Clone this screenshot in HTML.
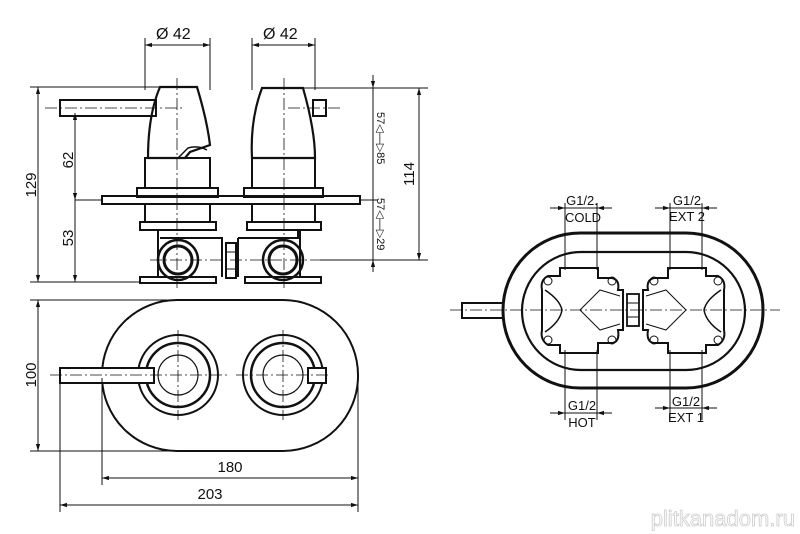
<!DOCTYPE html>
<html><head><style>
html,body{margin:0;padding:0;background:#fff;}
svg{display:block}
text{font-family:"Liberation Sans",sans-serif;fill:#111;}
</style></head><body>
<svg width="800" height="534" viewBox="0 0 800 534" xmlns="http://www.w3.org/2000/svg">
<defs>
<marker id="a" viewBox="0 0 10 10" refX="10" refY="5" markerWidth="7" markerHeight="7" orient="auto-start-reverse"><path d="M0,2 L10,5 L0,8 z" fill="#111"/></marker>
</defs>
<g fill="none" stroke="#111" stroke-width="1">
<line x1="145" y1="38" x2="145" y2="90"/><line x1="210" y1="38" x2="210" y2="90"/>
<line x1="252" y1="38" x2="252" y2="90"/><line x1="315" y1="38" x2="315" y2="90"/>
<line x1="145" y1="45" x2="210" y2="45" marker-start="url(#a)" marker-end="url(#a)"/>
<line x1="252" y1="45" x2="315" y2="45" marker-start="url(#a)" marker-end="url(#a)"/>
<rect x="60" y="100" width="96" height="16" stroke-width="2"/>
<path d="M160,87 L197,87 Q207,120 210,145 L190,152 L185,158 L148,158 Q148,115 160,87 z" stroke-width="2.2"/>
<path d="M178,158 L188,148 Q198,145 207,150" stroke-width="1.5"/>
<rect x="145" y="158" width="65" height="30" stroke-width="2"/>
<rect x="137" y="188" width="81" height="9" stroke-width="2"/>
<rect x="145" y="204" width="65" height="18" stroke-width="2"/>
<rect x="140" y="222" width="76" height="8" stroke-width="2"/>
<path d="M262,88 L303,88 Q315,130 315,158 L252,158 Q250,120 262,88 z" stroke-width="2.2"/>
<rect x="313" y="100" width="13" height="16" stroke-width="2"/>
<rect x="252" y="158" width="63" height="30" stroke-width="2"/>
<rect x="244" y="188" width="79" height="9" stroke-width="2"/>
<rect x="252" y="204" width="63" height="18" stroke-width="2"/>
<rect x="247" y="222" width="74" height="8" stroke-width="2"/>
<rect x="102" y="196" width="258" height="8" stroke-width="2"/>
<path d="M158,230 L158,277 M160,238 L222,238 L222,277" stroke-width="2"/>
<rect x="140" y="277" width="76" height="6" stroke-width="2"/>
<circle cx="178" cy="260" r="20" stroke-width="2.5"/><circle cx="178" cy="260" r="14" stroke-width="3"/>
<path d="M238,238 L298,238 L298,230 M238,238 L238,277 M300,230 L300,277" stroke-width="2"/>
<rect x="245" y="277" width="76" height="6" stroke-width="2"/>
<circle cx="283" cy="260" r="20" stroke-width="2.5"/><circle cx="283" cy="260" r="14" stroke-width="3"/>
<rect x="226" y="243" width="10" height="35" stroke-width="2"/>
<line x1="226" y1="252" x2="236" y2="252"/><line x1="226" y1="269" x2="236" y2="269"/>
<g stroke-dasharray="12,3,2,3" stroke-width="0.8">
<line x1="177" y1="78" x2="177" y2="288"/><line x1="284" y1="78" x2="284" y2="288"/>
<line x1="45" y1="108" x2="185" y2="108"/><line x1="288" y1="108" x2="340" y2="108"/>
<line x1="150" y1="260" x2="330" y2="260"/>
</g>
<line x1="30" y1="87" x2="160" y2="87"/><line x1="30" y1="282" x2="140" y2="282"/>
<line x1="38" y1="87" x2="38" y2="282" marker-start="url(#a)" marker-end="url(#a)"/>
<line x1="75" y1="200" x2="102" y2="200"/>
<line x1="75" y1="113" x2="75" y2="200" marker-start="url(#a)" marker-end="url(#a)"/>
<line x1="75" y1="200" x2="75" y2="282" marker-end="url(#a)"/>
<line x1="303" y1="88" x2="428" y2="88"/><line x1="320" y1="260" x2="428" y2="260"/>
<line x1="360" y1="200" x2="378" y2="200"/>
<line x1="419" y1="88" x2="419" y2="260" marker-start="url(#a)" marker-end="url(#a)"/>
<line x1="373" y1="75" x2="373" y2="88" marker-end="url(#a)"/>
<line x1="373" y1="88" x2="373" y2="260"/>
<line x1="373" y1="272" x2="373" y2="260" marker-end="url(#a)"/>

<rect x="102" y="300" width="256" height="151" rx="75" ry="75" stroke-width="2"/>
<circle cx="178" cy="375" r="40" stroke-width="2"/><circle cx="178" cy="375" r="32" stroke-width="2.5"/><circle cx="178" cy="375" r="20" stroke-width="1.2"/>
<circle cx="283" cy="375" r="40" stroke-width="2"/><circle cx="283" cy="375" r="32" stroke-width="2.5"/><circle cx="283" cy="375" r="20" stroke-width="1.2"/>
<rect x="60" y="368" width="94" height="15" stroke-width="2" fill="#fff"/>
<rect x="308" y="368" width="18" height="15" stroke-width="2" fill="#fff"/>
<g stroke-dasharray="12,3,2,3" stroke-width="0.8">
<line x1="50" y1="375" x2="230" y2="375"/><line x1="236" y1="375" x2="330" y2="375"/>
<line x1="178" y1="330" x2="178" y2="420"/><line x1="283" y1="330" x2="283" y2="420"/>
</g>
<line x1="30" y1="300" x2="180" y2="300"/><line x1="30" y1="451" x2="180" y2="451"/>
<line x1="38" y1="300" x2="38" y2="451" marker-start="url(#a)" marker-end="url(#a)"/>
<line x1="102" y1="378" x2="102" y2="485"/><line x1="358" y1="380" x2="358" y2="512"/>
<line x1="60" y1="383" x2="60" y2="512"/>
<line x1="102" y1="478" x2="358" y2="478" marker-start="url(#a)" marker-end="url(#a)"/>
<line x1="60" y1="505" x2="358" y2="505" marker-start="url(#a)" marker-end="url(#a)"/>

<rect x="503" y="233" width="260" height="155" rx="77" ry="77" stroke-width="3"/>
<rect x="522" y="252" width="223" height="118" rx="59" ry="59" stroke-width="2.2"/>
<rect x="462" y="303" width="41" height="15" stroke-width="2"/>
<line x1="450" y1="310" x2="780" y2="310" stroke-dasharray="12,3,2,3" stroke-width="0.8"/>
<path d="M560,268 L598,268 L598,278 L612,278 Q620,280 618,290 L618,290 L623,290 L623,330 L618,330 Q620,342 612,343 L598,343 L598,353 L560,353 L560,345 L548,345 Q540,340 542,330 L542,290 Q540,280 548,276 L560,276 z" stroke-width="2"/>
<path d="M545,290 Q560,300 562,310 Q560,322 545,332" stroke-width="1.5"/>
<path d="M580,310 L600,290 L620,296 M580,310 L600,330 L620,324" stroke-width="1"/>
<circle cx="548" cy="281" r="4"/><circle cx="612" cy="281" r="4"/><circle cx="548" cy="340" r="4"/><circle cx="612" cy="340" r="4"/>
<path d="M706,268 L668,268 L668,278 L654,278 Q646,280 648,290 L643,290 L643,330 L648,330 Q646,342 654,343 L668,343 L668,353 L706,353 L706,345 L718,345 Q726,340 724,330 L724,290 Q726,280 718,276 L706,276 z" stroke-width="2"/>
<path d="M721,290 Q706,300 704,310 Q706,322 721,332" stroke-width="1.5"/>
<path d="M686,310 L666,290 L646,296 M686,310 L666,330 L646,324" stroke-width="1"/>
<circle cx="718" cy="281" r="4"/><circle cx="654" cy="281" r="4"/><circle cx="718" cy="340" r="4"/><circle cx="654" cy="340" r="4"/>
<rect x="627" y="294" width="12" height="32" stroke-width="1.8"/>
<line x1="627" y1="303" x2="639" y2="303"/><line x1="627" y1="317" x2="639" y2="317"/>
<line x1="565" y1="203" x2="565" y2="270"/><line x1="597" y1="203" x2="597" y2="270"/>
<line x1="565" y1="350" x2="565" y2="420"/><line x1="597" y1="350" x2="597" y2="420"/>
<line x1="670" y1="203" x2="670" y2="270"/><line x1="702" y1="203" x2="702" y2="270"/>
<line x1="670" y1="350" x2="670" y2="420"/><line x1="702" y1="350" x2="702" y2="420"/>
<line x1="550" y1="208" x2="565" y2="208" marker-end="url(#a)"/><line x1="612" y1="208" x2="597" y2="208" marker-end="url(#a)"/><line x1="565" y1="208" x2="597" y2="208"/>
<line x1="655" y1="208" x2="670" y2="208" marker-end="url(#a)"/><line x1="717" y1="208" x2="702" y2="208" marker-end="url(#a)"/><line x1="670" y1="208" x2="702" y2="208"/>
<line x1="550" y1="413" x2="565" y2="413" marker-end="url(#a)"/><line x1="612" y1="413" x2="597" y2="413" marker-end="url(#a)"/><line x1="565" y1="413" x2="597" y2="413"/>
<line x1="655" y1="408" x2="670" y2="408" marker-end="url(#a)"/><line x1="717" y1="408" x2="702" y2="408" marker-end="url(#a)"/><line x1="670" y1="408" x2="702" y2="408"/>
</g>
<g font-size="15">
<text x="156" y="39" font-size="16">Ø 42</text>
<text x="263" y="39" font-size="16">Ø 42</text>
<text transform="translate(36,185) rotate(-90)" text-anchor="middle">129</text>
<text transform="translate(73,160) rotate(-90)" text-anchor="middle">62</text>
<text transform="translate(73,238) rotate(-90)" text-anchor="middle">53</text>
<text transform="translate(414,174) rotate(-90)" text-anchor="middle">114</text>
<text transform="translate(36,375) rotate(-90)" text-anchor="middle">100</text>
<text x="230" y="472" text-anchor="middle">180</text>
<text x="210" y="499" text-anchor="middle">203</text>
</g>
<g font-size="11">
<text transform="translate(377,112) rotate(90)">57◁—▷85</text>
<text transform="translate(377,198) rotate(90)">57◁—▷29</text>
</g>
<g font-size="13" text-anchor="middle">
<text x="582" y="205">G1/2.</text><text x="583" y="222">COLD</text>
<text x="687" y="205">G1/2</text><text x="687" y="221">EXT 2</text>
<text x="582" y="410">G1/2</text><text x="582" y="427">HOT</text>
<text x="686" y="406">G1/2</text><text x="686" y="422">EXT 1</text>
</g>
<text x="795" y="526" text-anchor="end" font-size="22" style="fill:none" stroke="#ccc" stroke-width="0.8">plitkanadom.ru</text>
</svg>
</body></html>
